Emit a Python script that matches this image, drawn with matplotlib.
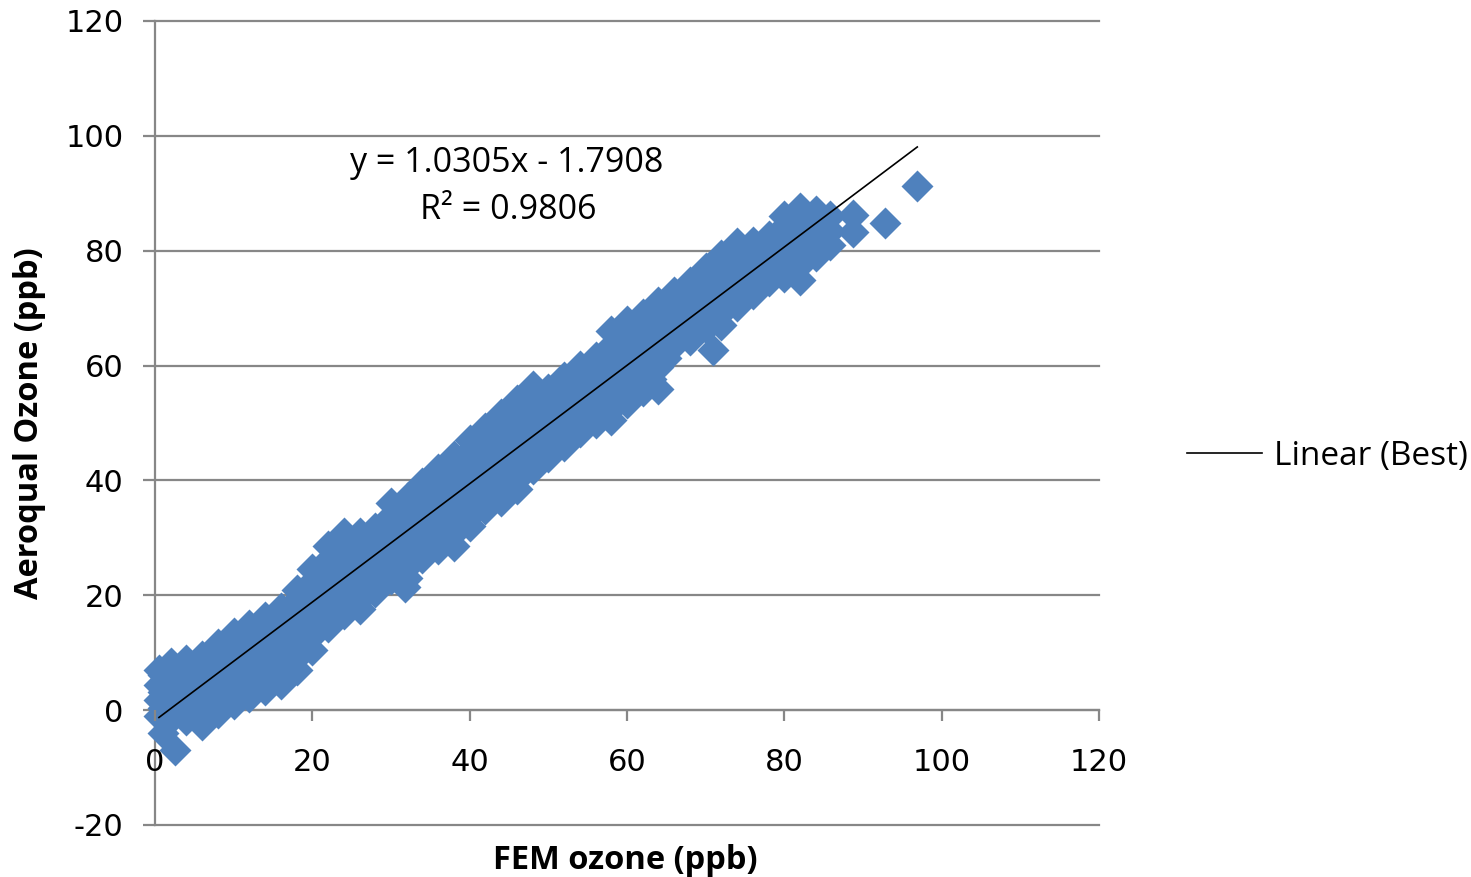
import matplotlib
matplotlib.use("Agg")
import matplotlib.pyplot as plt
import numpy as np

plt.rcParams['font.family'] = ['Open Sans', 'DejaVu Sans']
plt.rcParams['axes.unicode_minus'] = False

# ---- data (FEM ozone vs Aeroqual ozone, ppb) ----
fem_ozone = [
    0.5, 0.5, 0.5, 0.5, 1.0, 2.5,
    1, 1, 1,
    2, 2, 2, 2,
    3, 3, 3,
    4, 4, 4, 4,
    5, 5, 5,
    6, 6, 6, 6,
    7, 7, 7,
    8, 8, 8, 8,
    9, 9, 9,
    10, 10, 10, 10,
    11, 11, 11,
    12, 12, 12, 12,
    13, 13, 13,
    14, 14, 14, 14,
    15, 15, 15,
    16, 16, 16, 16,
    17, 17, 17, 17,
    18, 18, 18, 18, 18,
    19, 19, 19, 19,
    20, 20, 20, 20, 20,
    21, 21, 21, 21,
    22, 22, 22, 22, 22,
    23, 23, 23, 23,
    24, 24, 24, 24, 24,
    25, 25, 25, 25,
    26, 26, 26, 26, 26,
    27, 27, 27, 27,
    28, 28, 28, 28, 28,
    29, 29, 29, 29,
    30, 30, 30, 30, 30,
    31, 31, 31, 31,
    31.8,
    32, 32, 32, 32, 32,
    33, 33, 33, 33,
    34, 34, 34, 34, 34,
    35, 35, 35, 35,
    36, 36, 36, 36, 36,
    37, 37, 37, 37,
    38, 38, 38, 38, 38,
    39, 39, 39, 39,
    40, 40, 40, 40, 40,
    41, 41, 41, 41,
    42, 42, 42, 42, 42,
    43, 43, 43, 43,
    44, 44, 44, 44, 44,
    45, 45, 45, 45,
    46, 46, 46, 46, 46,
    47, 47, 47, 47,
    48, 48, 48, 48, 48,
    49, 49, 49, 49,
    50, 50, 50, 50, 50,
    51, 51, 51, 51,
    52, 52, 52, 52, 52,
    53, 53, 53, 53,
    54, 54, 54, 54, 54,
    55, 55, 55, 55,
    56, 56, 56, 56, 56,
    57, 57, 57, 57,
    58, 58, 58, 58, 58,
    59, 59, 59, 59,
    60, 60, 60, 60, 60,
    61, 61, 61, 61,
    62, 62, 62, 62, 62,
    63, 63, 63, 63,
    64, 64, 64, 64, 64,
    65, 65, 65, 65,
    66, 66, 66, 66,
    67, 67, 67,
    68, 68, 68, 68,
    69, 69, 69,
    70, 70, 70, 70,
    70.9,
    71, 71, 71,
    72, 72, 72, 72,
    73, 73, 73,
    74, 74, 74, 74,
    75, 75, 75,
    76, 76, 76, 76,
    77, 77, 77,
    78, 78, 78, 78,
    79, 79, 79,
    80, 80, 80, 80,
    81, 81, 81,
    82, 82, 82, 82, 82,
    83, 83, 83,
    84, 84, 84, 84,
    85, 85,
    85.8, 85.8, 85.8,
    88.7, 88.7,
    92.8,
    96.9,
]
aeroqual_ozone = [
    7.0, 4.3, 1.7, -1.0, -4.0, -7.0,
    6.1, 3.2, 0.3,
    8.2, 4.9, 1.8, -1.5,
    6.8, 3.4, 0.1,
    8.7, 5.2, 1.7, -1.8,
    7.2, 3.5, -0.3,
    9.4, 5.4, 1.5, -2.5,
    8.5, 4.5, 0.5,
    11.5, 7.5, 3.5, -0.5,
    10.5, 6.4, 2.3,
    13.5, 9.3, 5.2, 1.0,
    12.1, 7.9, 3.8,
    14.8, 10.6, 6.5, 2.3,
    13.4, 9.2, 5.0,
    16.3, 12.0, 7.8, 3.5,
    14.8, 10.5, 6.2,
    17.7, 13.3, 8.9, 4.5,
    17.7, 14.3, 10.9, 7.5,
    21.0, 17.5, 14.0, 10.5, 7.0,
    21.0, 17.5, 14.0, 10.5,
    24.5, 21.0, 17.5, 14.0, 10.5,
    24.8, 21.3, 17.8, 14.3,
    28.5, 25.0, 21.5, 18.0, 14.5,
    27.9, 24.4, 20.9, 17.4,
    30.8, 27.3, 23.8, 20.3, 16.8,
    29.1, 25.7, 22.3, 18.9,
    30.8, 27.5, 24.2, 20.9, 17.6,
    29.8, 26.7, 23.6, 20.6,
    31.8, 29.0, 26.1, 23.3, 20.5,
    32.4, 29.3, 26.2, 23.2,
    36.0, 32.7, 29.4, 26.1, 22.8,
    34.8, 31.2, 27.7, 24.4,
    21.5,
    37.0, 33.3, 29.5, 25.8, 23.0,
    36.5, 33.0, 29.5, 26.3,
    39.5, 36.3, 33.0, 29.8, 26.5,
    39.1, 35.7, 32.3, 29.0,
    42.0, 38.5, 35.0, 31.5, 28.0,
    41.3, 37.6, 33.8, 30.1,
    44.2, 40.3, 36.4, 32.4, 28.5,
    43.7, 39.9, 36.0, 32.2,
    47.0, 43.3, 39.5, 35.8, 32.0,
    46.3, 42.7, 39.0, 35.4,
    49.2, 45.7, 42.1, 38.6, 35.0,
    48.6, 44.9, 41.3, 37.6,
    51.5, 47.8, 44.0, 40.3, 36.5,
    50.9, 47.1, 43.3, 39.4,
    54.0, 50.1, 46.3, 42.4, 38.5,
    53.4, 49.7, 45.4, 41.6,
    56.5, 52.9, 49.3, 45.6, 42.0,
    54.6, 51.3, 48.0, 44.7,
    56.0, 53.0, 50.0, 47.0, 44.0,
    55.5, 52.5, 49.5, 46.5,
    58.0, 55.0, 52.0, 49.0, 46.0,
    57.5, 54.6, 51.7, 48.7,
    60.0, 57.1, 54.3, 51.4, 48.5,
    59.3, 56.5, 53.6, 50.7,
    61.5, 58.6, 55.8, 52.9, 50.0,
    62.1, 58.7, 55.4, 52.0,
    66.0, 62.1, 58.3, 54.4, 50.5,
    65.0, 61.3, 57.6, 53.9,
    67.8, 64.2, 60.7, 57.1, 53.5,
    66.7, 63.2, 59.8, 56.3,
    69.0, 65.6, 62.3, 58.9, 55.5,
    68.2, 64.7, 61.1, 57.6,
    71.0, 67.3, 63.5, 59.8, 56.0,
    70.4, 67.4, 64.3, 61.3,
    72.8, 69.7, 66.6, 63.5,
    72.0, 68.8, 65.6,
    74.5, 71.2, 67.8, 64.5,
    74.0, 70.6, 67.2,
    77.0, 73.5, 70.0, 66.5,
    62.7,
    76.3, 72.5, 68.7,
    79.3, 75.2, 71.1, 67.0,
    78.4, 74.5, 70.6,
    81.4, 77.7, 74.0, 70.3,
    79.8, 76.4, 73.1,
    81.5, 78.5, 75.5, 72.5,
    80.6, 77.8, 75.1,
    82.5, 79.9, 77.4, 74.8,
    82.7, 79.7, 76.7,
    86.0, 82.5, 79.0, 75.5,
    85.1, 81.6, 78.2,
    87.5, 84.2, 80.8, 77.5, 74.9,
    85.8, 82.8, 79.8,
    87.0, 84.3, 81.7, 79.0,
    85.2, 82.6,
    86.0, 83.5, 81.0,
    86.2, 83.2,
    84.8,
    91.2,
]

trend_slope = 1.0305
trend_intercept = -1.7908
r_squared = 0.9806

x_ticks = [0, 20, 40, 60, 80, 100, 120]
y_ticks = [-20, 0, 20, 40, 60, 80, 100, 120]

# ---- figure ----
W, H = 1471, 877
fig = plt.figure(figsize=(W / 100, H / 100), dpi=100)
ax = fig.add_axes([155 / W, 1 - 825 / H, (1099 - 155) / W, (825 - 21) / H])

grid_col = '#878787'
blue = '#4F81BD'

ax.set_xlim(0, 120)
ax.set_ylim(-20, 120)
ax.set_xticks(x_ticks)
ax.set_yticks(y_ticks)

ax.plot(fem_ozone, aeroqual_ozone, linestyle='none', marker='D', ms=16.5,
        mfc=blue, mec='none', zorder=3, clip_on=False)

fx = np.array([min(fem_ozone), max(fem_ozone)])
trend, = ax.plot(fx, trend_slope * fx + trend_intercept, color='black',
                 lw=1.2, zorder=4, label='Linear (Best)')

ax.yaxis.grid(True, color=grid_col, lw=1.6)
for gl in ax.get_ygridlines():
    gl.set_clip_on(False)
ax.set_axisbelow(True)
ax.xaxis.set_zorder(5)

for s in ['top', 'right']:
    ax.spines[s].set_visible(False)
ax.spines['bottom'].set_position(('data', 0))
ax.spines['bottom'].set_color(grid_col)
ax.spines['bottom'].set_linewidth(1.6)
ax.spines['left'].set_color(grid_col)
ax.spines['left'].set_linewidth(1.6)
ax.spines['bottom'].set_zorder(1)
ax.spines['left'].set_zorder(1)

ax.tick_params(axis='x', direction='out', length=8, width=1.6, color=grid_col,
               labelsize=22, pad=19, labelcolor='black')
ax.tick_params(axis='y', direction='out', length=8.6, width=1.6, color=grid_col,
               labelsize=22, pad=14, labelcolor='black')
for lab in ax.get_xticklabels() + ax.get_yticklabels():
    lab.set_fontfamily('DejaVu Sans')

ax.set_xlabel('FEM ozone (ppb)', fontsize=23.5, fontweight='bold')
ax.xaxis.set_label_coords(0.4979, -0.024)
ax.xaxis.label.set_va('top')
ax.set_ylabel('Aeroqual Ozone (ppb)', fontsize=23.5, fontweight='bold')
ax.yaxis.set_label_coords(-0.1155, 0.5)

fig.text(507 / W, 1 - 163 / H, f'y = {trend_slope:.4f}x - {abs(trend_intercept):.4f}',
         fontsize=24.5, ha='center', va='center')
fig.text(508 / W, 1 - 210 / H, f'R² = {r_squared:.4f}',
         fontsize=24.5, ha='center', va='center')

ax.legend(handles=[trend], loc='center left',
          bbox_to_anchor=(1187 / W, 1 - 456 / H), bbox_transform=fig.transFigure,
          frameon=False, borderpad=0, borderaxespad=0, handlelength=2.25,
          handletextpad=0.35, fontsize=24)

fig.savefig('out.png', dpi=100)
